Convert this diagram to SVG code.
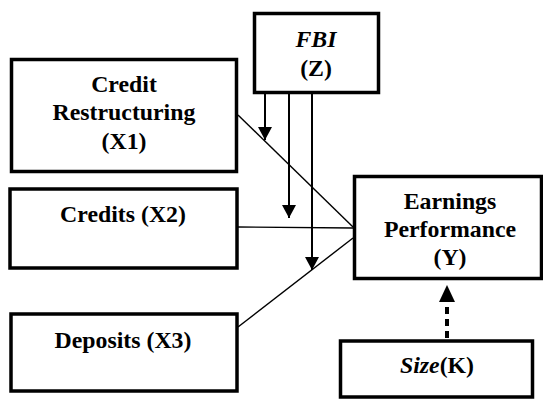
<svg xmlns="http://www.w3.org/2000/svg" width="543" height="401" viewBox="0 0 543 401">
<style>
.box{fill:#fff;stroke:#000;stroke-width:3.5}
text{font-family:'Liberation Serif','Times New Roman',serif;font-weight:bold;font-size:23.8px;fill:#000;text-anchor:middle}
.i{font-style:italic}
.ln{stroke:#000;stroke-width:1.4;fill:none}
.ar{stroke:#000;stroke-width:2;fill:none}
.da{stroke:#000;stroke-width:4;fill:none;stroke-dasharray:7 5}
</style>
<defs>
<marker id="ah" markerUnits="userSpaceOnUse" markerWidth="14" markerHeight="14" refX="13" refY="7" orient="auto">
<path d="M0,0 L13,7 L0,14 Z" fill="#000"/>
</marker>
</defs>
<g id="connectors">
<line class="ln" x1="238" y1="115" x2="353" y2="227"/>
<line class="ln" x1="238" y1="227" x2="353" y2="228"/>
<line class="ln" x1="238" y1="327" x2="353" y2="238"/>
<line class="ar" x1="265" y1="93" x2="265" y2="140" marker-end="url(#ah)"/>
<line class="ar" x1="289" y1="93" x2="289" y2="218" marker-end="url(#ah)"/>
<line class="ar" x1="312" y1="93" x2="312" y2="270" marker-end="url(#ah)"/>
<line class="da" x1="447" y1="338" x2="447" y2="300"/>
<path d="M439,302 L447,285 L455,302 Z" fill="#000"/>
</g>
<g id="fbi">
<rect class="box" x="254.5" y="13.5" width="124" height="79"/>
<text class="i" x="316" y="47">FBI</text>
<text x="316" y="76">(Z)</text>
</g>
<g id="x1">
<rect class="box" x="11.5" y="59.5" width="225" height="112"/>
<text x="124" y="92">Credit</text>
<text x="124" y="120">Restructuring</text>
<text x="124" y="149">(X1)</text>
</g>
<g id="x2">
<rect class="box" x="10" y="189" width="227" height="79"/>
<text x="123" y="222">Credits (X2)</text>
</g>
<g id="x3">
<rect class="box" x="11" y="314" width="226" height="77"/>
<text x="123" y="348">Deposits (X3)</text>
</g>
<g id="y">
<rect class="box" x="354.5" y="176.5" width="187" height="102"/>
<text x="450" y="209">Earnings</text>
<text x="450" y="237">Performance</text>
<text x="450" y="265">(Y)</text>
</g>
<g id="k">
<rect class="box" x="340.5" y="341" width="192" height="56"/>
<text x="437" y="373"><tspan class="i">Size</tspan>(K)</text>
</g>
</svg>
